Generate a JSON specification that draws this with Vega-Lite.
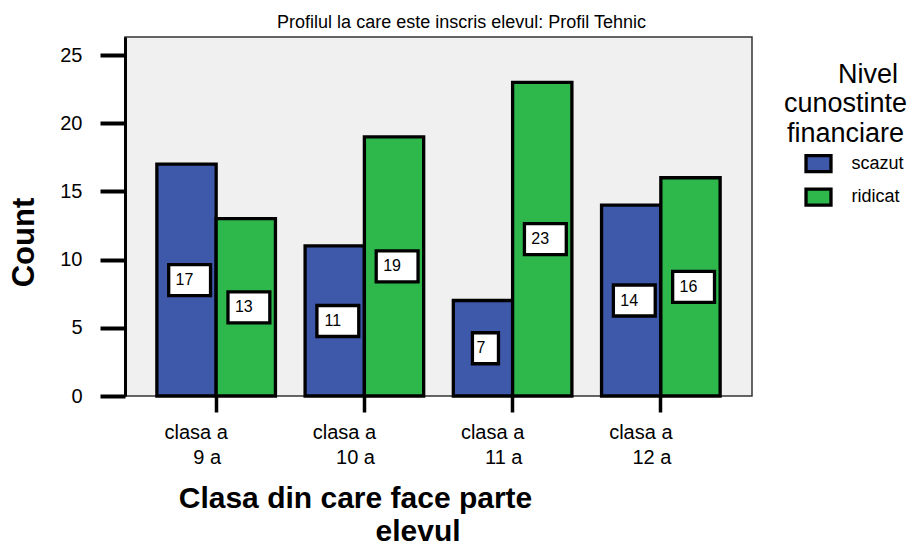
{
  "$schema": "https://vega.github.io/schema/vega-lite/v6.json",
  "width": 627,
  "height": 359,
  "autosize": {"type": "none"},
  "padding": {"left": 125, "top": 37, "right": 166, "bottom": 154},
  "background": "white",
  "config": {
    "font": "Liberation Sans",
    "view": {"fill": "#f0f0f0", "stroke": "#333333", "strokeWidth": 1.5}
  },
  "title": {
    "text": "Profilul la care este inscris elevul: Profil Tehnic",
    "fontSize": 18,
    "fontWeight": "normal",
    "color": "black",
    "anchor": "middle",
    "frame": "group",
    "offset": 5,
    "dx": 23
  },
  "data": {
    "values": [
      {"clasa": "clasa a 9 a", "nivel": "scazut", "count": 17},
      {"clasa": "clasa a 9 a", "nivel": "ridicat", "count": 13},
      {"clasa": "clasa a 10 a", "nivel": "scazut", "count": 11},
      {"clasa": "clasa a 10 a", "nivel": "ridicat", "count": 19},
      {"clasa": "clasa a 11 a", "nivel": "scazut", "count": 7},
      {"clasa": "clasa a 11 a", "nivel": "ridicat", "count": 23},
      {"clasa": "clasa a 12 a", "nivel": "scazut", "count": 14},
      {"clasa": "clasa a 12 a", "nivel": "ridicat", "count": 16}
    ]
  },
  "encoding": {
    "x": {
      "field": "clasa",
      "type": "nominal",
      "sort": ["clasa a 9 a", "clasa a 10 a", "clasa a 11 a", "clasa a 12 a"],
      "scale": {"paddingInner": 0.2, "paddingOuter": 0.215},
      "axis": {
        "title": ["Clasa din care face parte", "\u200b\u00a0\u00a0\u00a0\u00a0\u00a0\u00a0\u00a0\u00a0\u00a0\u00a0\u00a0\u00a0\u00a0\u00a0\u00a0elevul"],
        "titleFontSize": 30,
        "titleFontWeight": "bold",
        "titleColor": "black",
        "titleX": 230,
        "titleY": 111,
        "titleAlign": "center",
        "titleBaseline": "alphabetic",
        "titleLineHeight": 33,
        "labelFontSize": 20,
        "labelColor": "black",
        "labelLineHeight": 25,
        "labelPadding": 10,
        "labelOffset": -20,
        "labelAngle": 0,
        "labelBaseline": "top",
        "labelExpr": "['clasa a', '\u200b\u00a0\u00a0\u00a0\u00a0' + slice(datum.label, 8)]",
        "tickSize": 16,
        "tickWidth": 3.5,
        "tickColor": "black",
        "domain": false
      }
    },
    "xOffset": {
      "field": "nivel",
      "type": "nominal",
      "sort": ["scazut", "ridicat"],
      "scale": {"paddingInner": 0, "paddingOuter": 0}
    }
  },
  "layer": [
    {
      "mark": {"type": "bar", "stroke": "black", "strokeWidth": 3.3, "opacity": 1},
      "encoding": {
        "y": {
          "field": "count",
          "type": "quantitative",
          "scale": {"domain": [0, 26.32], "nice": false},
          "axis": {
            "title": "Count",
            "titleFontSize": 31,
            "titleFontWeight": "bold",
            "titleColor": "black",
            "titleAngle": -90,
            "titleX": -92,
            "titleY": 205,
            "titleAlign": "center",
            "titleBaseline": "alphabetic",
            "values": [0, 5, 10, 15, 20, 25],
            "labelFontSize": 20,
            "labelColor": "black",
            "labelPadding": 18,
            "tickSize": 25,
            "tickWidth": 4,
            "tickColor": "black",
            "domainColor": "black",
            "domainWidth": 3,
            "grid": false
          }
        },
        "color": {
          "field": "nivel",
          "type": "nominal",
          "scale": {"domain": ["scazut", "ridicat"], "range": ["#3e59aa", "#2eb84b"]},
          "legend": {
            "title": ["\u200b\u00a0\u00a0\u00a0\u00a0\u00a0\u00a0Nivel", "cunostinte", "financiare"],
            "orient": "none",
            "legendX": 658.5,
            "legendY": 24.7,
            "padding": 0,
            "titleFontSize": 27,
            "titleFontWeight": "normal",
            "titleColor": "black",
            "titleAlign": "center",
            "titleAnchor": "middle",
            "titleLineHeight": 29.5,
            "titlePadding": 6,
            "labelFontSize": 18,
            "labelColor": "black",
            "labelOffset": 23,
            "symbolType": "M-1.56,-1H1.56V1H-1.56Z",
            "symbolSize": 256,
            "symbolStrokeColor": "black",
            "symbolStrokeWidth": 3.3,
            "symbolOffset": 21,
            "symbolOpacity": 1,
            "rowPadding": 3.5
          }
        }
      }
    },
    {
      "layer": [
        {
          "mark": {"type": "point", "filled": true, "fill": "white", "stroke": "black", "strokeWidth": 3.3, "opacity": 1, "size": 961},
          "encoding": {
            "y": {"field": "count", "type": "quantitative", "scale": {"domain": [0, 52.64], "nice": false}, "axis": null},
            "shape": {
              "condition": {"test": "datum.count < 10", "value": "M-0.68,-1H1V1H-0.68Z"},
              "value": "M-1.15,-1H1.55V1H-1.15Z"
            }
          }
        },
        {
          "mark": {"type": "text", "fontSize": 16, "dx": -2, "color": "black", "baseline": "middle"},
          "encoding": {
            "y": {"field": "count", "type": "quantitative", "scale": {"domain": [0, 52.64], "nice": false}, "axis": null},
            "text": {"field": "count", "type": "quantitative"}
          }
        }
      ]
    }
  ],
  "resolve": {"scale": {"y": "independent"}}
}
